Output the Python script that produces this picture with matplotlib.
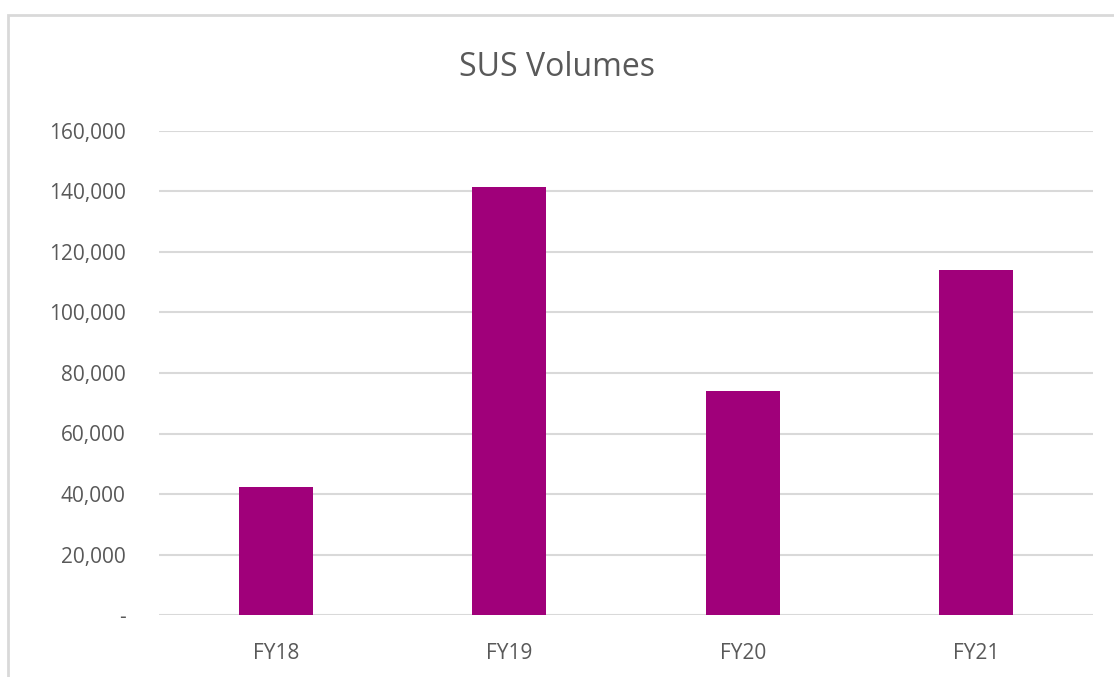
import matplotlib.pyplot as plt
from matplotlib.patches import Rectangle
from matplotlib.ticker import FuncFormatter

years = ["FY18", "FY19", "FY20", "FY21"]
volumes = [42300, 141400, 74000, 114000]
y_ticks = [0, 20000, 40000, 60000, 80000, 100000, 120000, 140000, 160000]

bar_color = "#A0007A"
text_color = "#595959"
grid_color = "#D9D9D9"

plt.rcParams["font.family"] = ["Open Sans", "DejaVu Sans"]

fig = plt.figure(figsize=(11.14, 6.77), dpi=100)
ax = fig.add_axes([159 / 1114, 1 - 615 / 677, 934 / 1114, 484 / 677])

# outer chart frame (cut off at right/bottom like the screenshot)
fig.patches.append(Rectangle((8 / 1114, -0.1), 1.2, 1 - 15 / 677 + 0.1,
                             transform=fig.transFigure, fill=False,
                             edgecolor=grid_color, linewidth=2))

x = range(len(years))
ax.bar(x, volumes, width=0.317, color=bar_color, zorder=3)

ax.set_xlim(-0.5, 3.5)
ax.set_ylim(0, 160000)
ax.set_yticks(y_ticks)
ax.yaxis.set_major_formatter(FuncFormatter(lambda v, p: "-" if v == 0 else f"{v:,.0f}"))
ax.set_xticks(list(x))
ax.set_xticklabels(years)

ax.grid(axis="y", color=grid_color, linewidth=1.5, zorder=0)
for s in ax.spines.values():
    s.set_visible(False)
ax.tick_params(axis="both", length=0, colors=text_color, labelsize=15)
ax.tick_params(axis="y", pad=24)
ax.tick_params(axis="x", pad=20)

fig.text(0.5, 1 - 67 / 677, "SUS Volumes", ha="center", va="center",
         fontsize=23, color=text_color)

fig.savefig("out.png", dpi=100)
